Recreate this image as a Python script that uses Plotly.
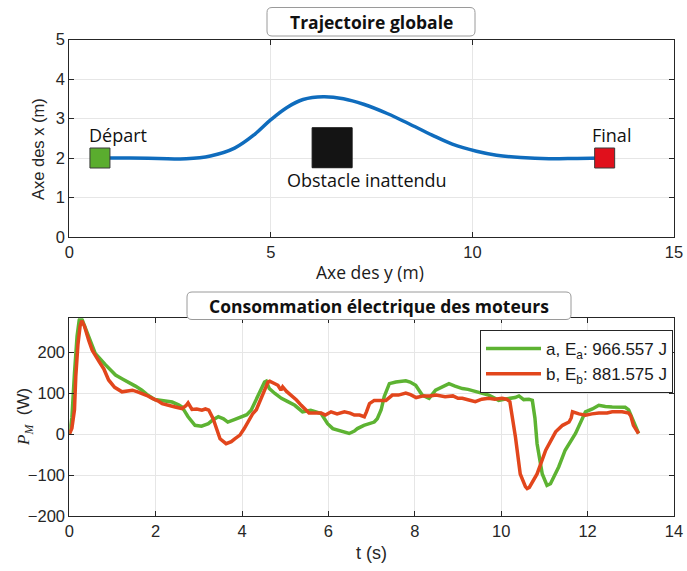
import plotly.graph_objects as go

# ---- Trajectory (top panel): lateral position y vs. longitudinal x ----
traj_y = [0.76, 1.5, 2.2, 2.9, 3.5, 4.1, 4.6, 5.0, 5.4, 5.8, 6.3, 6.8, 7.3, 7.9,
          8.4, 9.0, 9.5, 10.1, 10.6, 11.2, 11.9, 12.6, 13.28]
traj_x = [2.0, 2.0, 1.99, 1.98, 2.05, 2.25, 2.6, 2.97, 3.28, 3.48, 3.55, 3.5, 3.36,
          3.12, 2.88, 2.58, 2.35, 2.17, 2.07, 2.01, 1.98, 1.99, 2.0]

start_pt = (0.76, 2.0)
final_pt = (13.28, 2.0)
obstacle_pt = (6.52, 2.26)

# ---- Motor power (bottom panel) ----
t_a = [0.00, 0.06, 0.12, 0.18, 0.23, 0.26, 0.30, 0.38, 0.45, 0.60, 0.84, 1.07, 1.24,
       1.37, 1.53, 1.68, 1.83, 1.98, 2.18, 2.38, 2.53, 2.61, 2.75, 2.91, 3.06, 3.17,
       3.22, 3.32, 3.45, 3.57, 3.67, 3.82, 3.99, 4.11, 4.21, 4.36, 4.46, 4.52, 4.56,
       4.63, 4.76, 4.91, 5.06, 5.22, 5.40, 5.59, 5.83, 5.98, 6.10, 6.21, 6.35, 6.48,
       6.60, 6.67, 6.82, 6.94, 7.06, 7.13, 7.22, 7.29, 7.41, 7.56, 7.79, 7.89, 8.02,
       8.17, 8.33, 8.48, 8.63, 8.79, 8.93, 9.10, 9.23, 9.41, 9.53, 9.71, 9.82, 9.94,
       10.07, 10.18, 10.32, 10.41, 10.52, 10.64, 10.72, 10.78, 10.83, 10.95, 11.06,
       11.14, 11.33, 11.48, 11.72, 11.95, 12.11, 12.26, 12.41, 12.57, 12.71, 12.87,
       12.95, 13.06, 13.18]
p_a = [0, 40, 150, 240, 280, 287, 280, 258, 238, 198, 170, 145, 135,
       128, 118, 108, 95, 85, 82, 79, 72, 67, 43, 22, 20, 24,
       26, 35, 43, 38, 30, 36, 43, 48, 59, 92, 115, 128, 130,
       112, 100, 88, 80, 71, 55, 59, 51, 26, 14, 10, 5, 2,
       8, 14, 22, 25, 30, 38, 60, 92, 124, 128, 131, 128, 120,
       96, 88, 108, 115, 124, 118, 112, 110, 104, 100, 96, 90, 83,
       86, 88, 90, 94, 85, 86, 83, 40, -23, -97, -125,
       -121, -80, -39, 2, 55, 62, 71, 68, 67, 67, 66,
       60, 34, 2]

t_b = [0.00, 0.06, 0.12, 0.15, 0.20, 0.25, 0.29, 0.35, 0.45, 0.53, 0.69, 0.80, 0.91,
       1.05, 1.22, 1.35, 1.46, 1.58, 1.69, 1.80, 1.92, 2.05, 2.15, 2.30, 2.45, 2.61,
       2.70, 2.75, 2.84, 2.95, 3.07, 3.15, 3.23, 3.33, 3.44, 3.49, 3.63, 3.75, 3.83,
       3.95, 4.05, 4.17, 4.25, 4.33, 4.44, 4.53, 4.60, 4.64, 4.72, 4.83, 4.90, 4.94,
       5.03, 5.14, 5.26, 5.37, 5.55, 5.70, 5.83, 5.93, 6.06, 6.20, 6.37, 6.50, 6.60,
       6.72, 6.83, 6.88, 6.95, 7.06, 7.20, 7.33, 7.48, 7.62, 7.79, 7.90, 8.03, 8.20,
       8.35, 8.49, 8.70, 8.88, 9.00, 9.10, 9.25, 9.40, 9.55, 9.71, 9.85, 10.02, 10.12,
       10.20, 10.33, 10.44, 10.56, 10.60, 10.65, 10.83, 11.03, 11.18, 11.26, 11.42,
       11.57, 11.62, 11.65, 11.80, 11.95, 12.10, 12.26, 12.45, 12.57, 12.80, 12.95,
       13.00, 13.06, 13.18]
p_b = [0, 15, 60, 141, 220, 265, 278, 265, 230, 206, 178, 160, 133,
       115, 104, 106, 108, 104, 100, 95, 88, 82, 75, 72, 67, 63,
       70, 77, 61, 62, 59, 62, 59, 38, 2, -11, -23, -18, -11,
       -2, 14, 35, 51, 60, 88, 110, 128, 130, 126, 120, 108, 116,
       105, 96, 84, 71, 52, 52, 52, 47, 55, 50, 55, 52, 47,
       47, 43, 55, 75, 83, 83, 83, 96, 96, 101, 97, 90, 94,
       94, 96, 92, 94, 88, 88, 84, 80, 86, 88, 86, 88, 86,
       80, -7, -97, -128, -133, -130, -97, -39, -10, 6, 22,
       30, 40, 55, 50, 47, 50, 52, 52, 55, 55, 52,
       45, 22, 2]

energy_a = "966.557"
energy_b = "881.575"

top_xticks = [0, 5, 10, 15]
top_yticks = [0, 1, 2, 3, 4, 5]
bot_xticks = [0, 2, 4, 6, 8, 10, 12, 14]
bot_yticks = [-200, -100, 0, 100, 200]

W, H = 687, 571
BLUE = "#0f6cbd"
GREEN = "#5db332"
RED = "#e2461c"
AXC = "#262626"
GRID = "#e6e6e6"
TICKFONT = dict(family="Liberation Sans, Arial", size=16.5, color=AXC)


def px_x(x):
    return x / W


def px_y(y):
    return 1 - y / H


def rounded_box(x0, y0, x1, y1, r=5):
    rx, ry = r / W, r / H
    a, b, c, d = px_x(x0), px_y(y1), px_x(x1), px_y(y0)
    return (f"M {a + rx},{b} L {c - rx},{b} Q {c},{b} {c},{b + ry} "
            f"L {c},{d - ry} Q {c},{d} {c - rx},{d} L {a + rx},{d} "
            f"Q {a},{d} {a},{d - ry} L {a},{b + ry} Q {a},{b} {a + rx},{b} Z")


fig = go.Figure()

fig.add_trace(go.Scatter(x=traj_y, y=traj_x, mode="lines", line=dict(color=BLUE, width=3.5, shape="spline"),
                         xaxis="x", yaxis="y", showlegend=False, hoverinfo="skip"))
fig.add_trace(go.Scatter(x=[start_pt[0]], y=[start_pt[1]], mode="markers",
                         marker=dict(symbol="square", size=20, color="#5aad2e", line=dict(color="#3a3a3a", width=1)),
                         xaxis="x", yaxis="y", showlegend=False))
fig.add_trace(go.Scatter(x=[final_pt[0]], y=[final_pt[1]], mode="markers",
                         marker=dict(symbol="square", size=20, color="#e0101c", line=dict(color="#3a3a3a", width=1)),
                         xaxis="x", yaxis="y", showlegend=False))
fig.add_trace(go.Scatter(x=[obstacle_pt[0]], y=[obstacle_pt[1]], mode="markers",
                         marker=dict(symbol="square", size=40, color="#141414", line=dict(color="#141414", width=1)),
                         xaxis="x", yaxis="y", showlegend=False))

fig.add_trace(go.Scatter(x=t_a, y=p_a, mode="lines", line=dict(color=GREEN, width=3.5),
                         name=f"a, E<sub>a</sub>: {energy_a} J", xaxis="x2", yaxis="y2"))
fig.add_trace(go.Scatter(x=t_b, y=p_b, mode="lines", line=dict(color=RED, width=3.5),
                         name=f"b, E<sub>b</sub>: {energy_b} J", xaxis="x2", yaxis="y2"))

axis_common = dict(showline=True, linecolor=AXC, linewidth=1, mirror="ticks", ticks="inside",
                   ticklen=5, tickcolor=AXC, showgrid=True, gridcolor=GRID, gridwidth=1,
                   zeroline=False, tickfont=TICKFONT, automargin=False)

xdom = [px_x(69.3), px_x(674)]
fig.update_layout(
    width=W, height=H, autosize=False,
    margin=dict(l=0, r=0, t=0, b=0, pad=0, autoexpand=False),
    paper_bgcolor="white", plot_bgcolor="white",
    xaxis=dict(domain=xdom, range=[0, 15], tickvals=top_xticks, anchor="y", **axis_common),
    yaxis=dict(domain=[px_y(237), px_y(39.5)], range=[0, 5], tickvals=top_yticks, anchor="x", **axis_common),
    xaxis2=dict(domain=xdom, range=[0, 14], tickvals=bot_xticks, anchor="y2", **axis_common),
    yaxis2=dict(domain=[px_y(516), px_y(318.3)], range=[-200, 284], tickvals=bot_yticks, anchor="x2",
                **axis_common),
    legend=dict(x=px_x(673), y=px_y(330), xanchor="right", yanchor="top",
                bgcolor="white", bordercolor=AXC, borderwidth=1,
                font=dict(family="Liberation Sans, Arial", size=17, color="#1a1a1a"),
                itemwidth=55, tracegroupgap=0),
)

shapes = [
    dict(type="path", xref="paper", yref="paper", path=rounded_box(267, 7.5, 475, 36),
         line=dict(color="#9a9a9a", width=1), fillcolor="white", layer="above"),
    dict(type="path", xref="paper", yref="paper", path=rounded_box(187, 292, 571, 319.5),
         line=dict(color="#9a9a9a", width=1), fillcolor="white", layer="above"),
]
fig.update_layout(shapes=shapes)

TITLEFONT = dict(family="Open Sans, Noto Sans", size=17.5, color="#111111")
LABELFONT = dict(family="Open Sans, Noto Sans", size=18, color="#111111")
AXTITLEFONT = dict(family="Liberation Sans, Arial", size=16.5, color=AXC)


def note(text, x, y, ref=("paper", "paper"), font=AXTITLEFONT, angle=0):
    return dict(text=text, x=x, y=y, xref=ref[0], yref=ref[1], showarrow=False,
                xanchor="center", yanchor="middle", textangle=angle, font=font)


annotations = [
    note("<b>Trajectoire globale</b>", px_x(371), px_y(22), font=TITLEFONT),
    note("<b>Consommation électrique des moteurs</b>", px_x(379), px_y(306), font=TITLEFONT),
    note("Départ", 1.2, 2.59, ref=("x", "y"), font=LABELFONT),
    note("Final", 13.46, 2.59, ref=("x", "y"), font=LABELFONT),
    note("Obstacle inattendu", 7.38, 1.45, ref=("x", "y"), font=LABELFONT),
    note("Axe des y (m)", px_x(370), px_y(272),
         font=dict(family="Open Sans, Noto Sans", size=17.5, color="#1a1a1a")),
    note("Axe des x (m)", px_x(38), px_y(149), angle=-90),
    note("t (s)", px_x(371), px_y(553), font=dict(family="Liberation Sans, Arial", size=18, color=AXC)),
    note('<span style="font-family:Liberation Serif;font-style:italic">P<sub>M</sub></span>  (W)',
         px_x(25), px_y(417), angle=-90, font=dict(family="Liberation Sans, Arial", size=17, color=AXC)),
]
fig.update_layout(annotations=annotations)

fig.write_html("out.html")
